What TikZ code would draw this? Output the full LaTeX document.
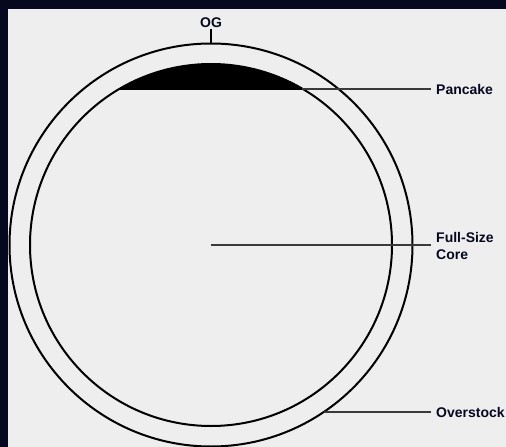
\documentclass[tikz,border=0pt]{standalone}
\usepackage{fontspec}
\setmainfont{Liberation Sans}

\definecolor{navy}{HTML}{05081F}
\definecolor{panel}{HTML}{EEEEEE}
\definecolor{leadgray}{HTML}{3A3A3A}

\tikzset{
  tag/.style={font=\bfseries\fontsize{14}{16.5}\selectfont, anchor=west,
    inner xsep=5pt, inner ysep=0pt, align=left, text=navy},
  leader/.style={draw=leadgray, line width=1.6pt},
  ring/.style={draw=black, line width=2pt}
}

\begin{document}
\begin{tikzpicture}[x=1pt, y=-1pt]

  % -- Frame --
  \fill[navy] (0,0) rectangle (506,447);
  \fill[panel] (8,9) rectangle (506,447);
  \useasboundingbox (0,0) rectangle (506,447);
  \clip (0,0) rectangle (506,447);

  % -- Log rings --
  \coordinate (centre) at (211,245);
  \draw[ring] (centre) circle (201.5);
  \draw[ring] (centre) circle (181);

  % -- Pancake (top slab of the core) --
  \begin{scope}
    \clip (0,0) rectangle (506,89);
    \fill[black] (centre) circle (181);
  \end{scope}
  \coordinate (pancake end) at (302,89);

  % -- Labels --
  \node[tag, anchor=south, inner sep=1pt] (og) at (211,29) {OG};
  \coordinate (og end) at (211,43);
  \node[tag] (pancake) at (431,89) {Pancake};
  \node[tag] (core) at (431,246) {Full-Size\\Core};
  \node[tag] (overstock) at (431,412) {Overstock};
  \coordinate (overstock end) at (324,412);

  % -- Leaders --
  \draw[line width=1.5pt] (og) -- (og end);
  \draw[leader] (pancake end) -- (pancake end -| pancake.west);
  \draw[leader] (centre) -- (centre -| core.west);
  \draw[leader] (overstock end) -- (overstock end -| overstock.west);

\end{tikzpicture}
\end{document}
